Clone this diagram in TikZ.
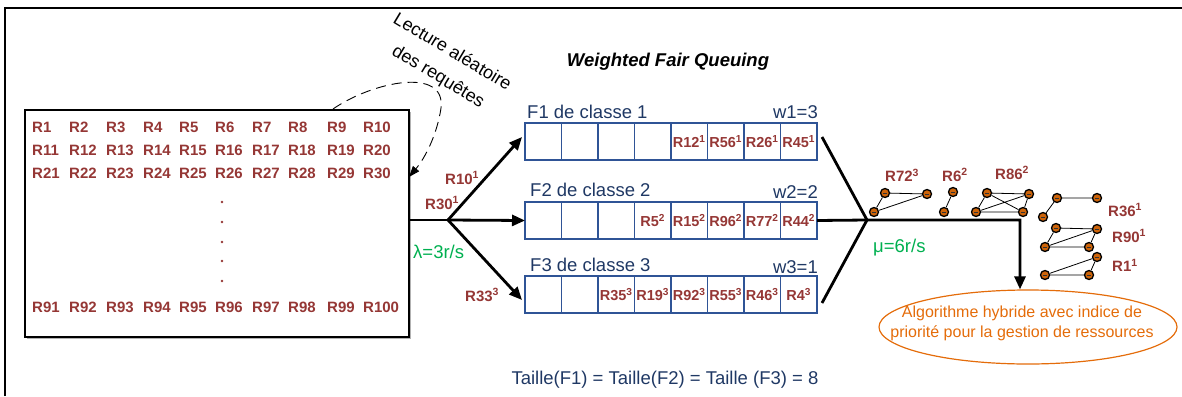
\documentclass[tikz,border=0pt]{standalone}
\usepackage{fontspec}
\setmainfont{Liberation Sans}
\usetikzlibrary{arrows.meta,shapes.geometric,calc}
\definecolor{reqred}{RGB}{149,55,53}
\definecolor{navy}{RGB}{31,56,100}
\definecolor{qblue}{RGB}{47,84,150}
\definecolor{rategreen}{RGB}{0,176,80}
\definecolor{algo}{RGB}{228,108,10}
\definecolor{dotor}{RGB}{205,100,10}
\newcommand{\req}[2]{R#1\textsuperscript{#2}}
\begin{document}
\begin{tikzpicture}[x=1pt,y=-1pt,
  req/.style={text=reqred,font=\fontsize{15}{15}\selectfont\bfseries,inner sep=0pt},
  cellreq/.style={text=reqred,font=\fontsize{14.5}{14.5}\selectfont\bfseries,inner sep=0pt},
  navytxt/.style={text=navy,font=\fontsize{18.5}{18.5}\selectfont,inner sep=0pt},
  rate/.style={text=rategreen,font=\fontsize{18.5}{18.5}\selectfont,inner sep=0pt},
  cell/.style={draw=qblue,line width=1.3pt,minimum width=36.5pt,minimum height=37pt,inner sep=0pt,outer sep=0pt},
  flow/.style={line width=2.8pt,-{Triangle[length=13pt,width=11pt]}},
  flowline/.style={line width=2.8pt},
  gnode/.style={circle,fill=dotor,draw=black,line width=1.3pt,minimum size=9pt,inner sep=0pt,
    path picture={\draw[black!80,line width=0.7pt]
      ($(path picture bounding box.center)+(-2,0)$) -- ++(4,0);}},
  gedge/.style={line width=0.8pt},
]
\useasboundingbox (0,0) rectangle (1182,396);

% outer frame
\draw[line width=1.6pt] (5,396) -- (5,8) -- (1182,8);

% pool of requests
\draw[gray!60,line width=1.5pt] (27,338) -- (410,338) -- (410,112);
\node[draw,line width=1.6pt,minimum width=384pt,minimum height=227pt,anchor=north west,inner sep=0pt] (pool) at (24,109) {};
\foreach \r/\y in {0/127,1/150,2/173,9/307}
  \foreach \c/\x in {1/32,2/69,3/106,4/143,5/179,6/215,7/252,8/288,9/327,10/363}
    \node[req,anchor=west] (r-\r-\c) at (\x,\y) {R\the\numexpr\r*10+\c\relax};
\foreach \y in {202,222,242,261,281}
  \fill[reqred] (222,\y) circle (1.3pt);

% random reading of requests
\node[rotate=-31,font=\fontsize{18}{18}\selectfont,inner sep=0pt] (lect1) at (453,51) {Lecture aléatoire};
\node[rotate=-31,font=\fontsize{18}{18}\selectfont,inner sep=0pt] (lect2) at (438,77) {des requêtes};
\coordinate (dstart) at (333,109);
\coordinate (dend) at (409,177);
\draw[line width=0.9pt,dash pattern=on 10pt off 6pt,-{Triangle[length=11pt,width=8pt]}]
  (dstart) .. controls (372,82) and (446,66) .. (441,108) .. controls (437,135) and (425,158) .. (dend);

% title
\node[font=\fontsize{18.5}{18.5}\selectfont\bfseries\itshape,inner sep=0pt] (wfq) at (668,62) {Weighted Fair Queuing};

% queues
\foreach \q/\y in {1/141.5,2/220.5,3/294.5}
  \foreach \i in {1,...,8}
    \node[cell] (q\q c\i) at ({525+36.5*(\i-0.5)},\y) {};

\node[navytxt,anchor=base west] (f1) at (527,118) {F1 de classe 1};
\node[navytxt,anchor=base east] (w1) at (818,118) {w1=3};
\node[navytxt,anchor=base west] (f2) at (530,196) {F2 de classe 2};
\node[navytxt,anchor=base east] (w2) at (818,198) {w2=2};
\node[navytxt,anchor=base west] (f3) at (530,271) {F3 de classe 3};
\node[navytxt,anchor=base east] (w3) at (818,273) {w3=1};

\node[cellreq] at (q1c5) {\req{12}{1}};
\node[cellreq] at (q1c6) {\req{56}{1}};
\node[cellreq] at (q1c7) {\req{26}{1}};
\node[cellreq] at (q1c8) {\req{45}{1}};

\node[cellreq] at (q2c4) {\req{5}{2}};
\node[cellreq] at (q2c5) {\req{15}{2}};
\node[cellreq] at (q2c6) {\req{96}{2}};
\node[cellreq] at (q2c7) {\req{77}{2}};
\node[cellreq] at (q2c8) {\req{44}{2}};

\node[cellreq] at (q3c3) {\req{35}{3}};
\node[cellreq] at (q3c4) {\req{19}{3}};
\node[cellreq] at (q3c5) {\req{92}{3}};
\node[cellreq] at (q3c6) {\req{55}{3}};
\node[cellreq] at (q3c7) {\req{46}{3}};
\node[cellreq] at (q3c8) {\req{4}{3}};

% dispatching towards the queues
\coordinate (split) at (448,220);
\coordinate (in1) at (522,137);
\coordinate (in3) at (522,300);
\draw[flowline] (pool.east |- split) -- (split);
\draw[flow] (split) -- (in1);
\draw[flow] (split) -- (q2c1.west);
\draw[flow] (split) -- (in3);
\node[req,anchor=west] (l10) at (445,178) {\req{10}{1}};
\node[req,anchor=west] (l30) at (425,203) {\req{30}{1}};
\node[req,anchor=west] (l33) at (465,295) {\req{33}{3}};
\node[rate,anchor=west] (lambda) at (413,252) {λ=3r/s};

% service side
\coordinate (out1) at (822,137);
\coordinate (out3) at (822,303);
\coordinate (merge) at (867,220);
\coordinate (corner) at (1020,220);
\draw[flowline,line join=miter] (out1) -- (merge) -- (out3);
\node[ellipse,draw=algo,line width=1.2pt,minimum width=298pt,minimum height=74pt,inner sep=0pt] (ell) at (1028,327) {};
\node[text=algo,font=\fontsize{16}{20}\selectfont,align=center,inner sep=0pt] (algotxt) at (1022,323) {Algorithme hybride avec indice de\\priorité pour la gestion de ressources};
\draw[flow] (q2c8.east) -- (merge) -- (corner) -- (corner |- ell.north);
\node[rate,anchor=west] (mu) at (873,248) {μ=6r/s};

% requests being served
\node[gnode] (a) at (885,193) {};
\node[gnode] (b) at (927,194) {};
\node[gnode] (c) at (874,212) {};
\draw[gedge] (a) -- (b) (a) -- (c) (c) -- (b);
\node[req,anchor=west] (l72) at (885,175) {\req{72}{3}};

\node[gnode] (d) at (953,192) {};
\node[gnode] (e) at (944,212) {};
\draw[gedge] (d) -- (e);
\node[req,anchor=west] (l6) at (942,175) {\req{6}{2}};

\node[gnode] (f) at (987,193) {};
\node[gnode] (g) at (1029,194) {};
\node[gnode] (h) at (1023,212) {};
\node[gnode] (i) at (976,212) {};
\draw[gedge] (f) -- (g) (f) -- (i) (f) -- (h) (i) -- (g) (g) -- (h) (i) -- (h);
\node[req,anchor=west] (l86) at (995,173) {\req{86}{2}};

\node[gnode] (j) at (1057,198) {};
\node[gnode] (k) at (1097,198) {};
\node[gnode] (l) at (1043,217) {};
\draw[gedge] (j) -- (k) (j) -- (l);
\node[req,anchor=west] (l36) at (1108,210) {\req{36}{1}};

\node[gnode] (m) at (1056,228) {};
\node[gnode] (n) at (1097,229) {};
\node[gnode] (o) at (1045,247) {};
\node[gnode] (p) at (1089,247) {};
\draw[gedge] (m) -- (n) (m) -- (o) (o) -- (n) (o) -- (p) (p) -- (n);
\node[req,anchor=west] (l90) at (1112,236) {\req{90}{1}};

\node[gnode] (q) at (1097,257) {};
\node[gnode] (r) at (1045,275) {};
\node[gnode] (s) at (1089,275) {};
\draw[gedge] (r) -- (q) (r) -- (s) (s) -- (q);
\node[req,anchor=west] (l1) at (1112,265) {\req{1}{1}};

% queue size note
\node[navytxt,anchor=base] (taille) at (665,384) {Taille(F1) = Taille(F2) = Taille (F3) = 8};
\end{tikzpicture}
\end{document}
